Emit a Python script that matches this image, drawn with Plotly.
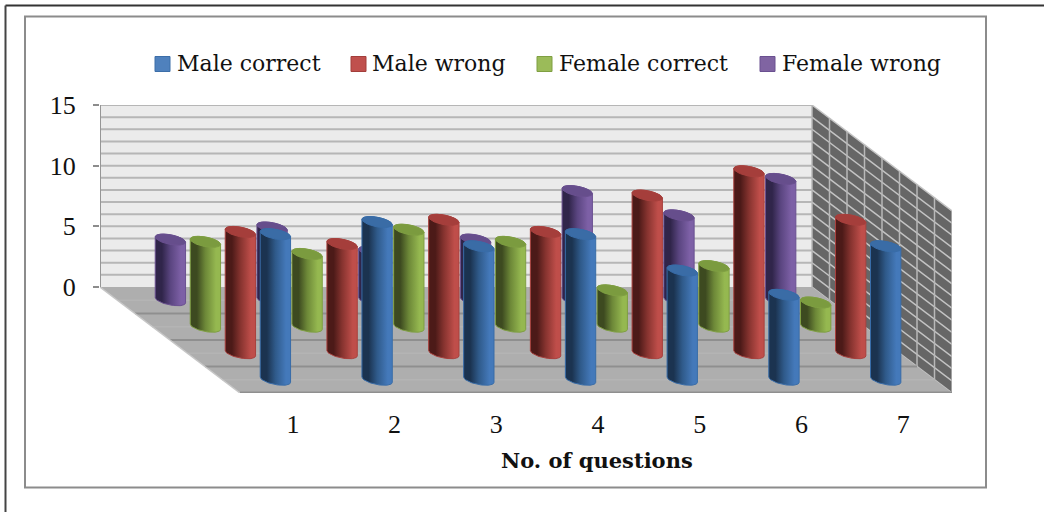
"""3D-look cylinder chart of correct/wrong answers per question, drawn on plain 2D axes
with an oblique projection (category slot, depth, value) -> (x, y)."""
import numpy as np
import plotly.graph_objects as go

QUESTIONS = ["1", "2", "3", "4", "5", "6", "7"]
MALE_CORRECT = [12, 13, 11, 12, 9, 7, 11]
MALE_WRONG = [10, 9, 11, 10, 13, 15, 11]
FEMALE_CORRECT = [7, 6, 8, 7, 3, 5, 2]
FEMALE_WRONG = [5, 6, 4, 5, 9, 7, 10]
VALUE_TICKS = [0, 5, 10, 15]

W, H = 1044, 512
FONT = "DejaVu Serif"
TICK_FONT = "Liberation Serif"
# pixel box of the plot area and pixel size of one unit on each axis
L, R, T, B = 100, 952, 105, 393
PX_X = 712 / 7
PX_Y = 182 / 15
DEPTH_X = 140 / PX_X
DEPTH_Y = 106 / PX_Y
SLOT_MID = 0.52

# (name, values, [dark, mid, light], top colour, edge colour, depth centre), back row first
SERIES = [
    ("Female wrong", FEMALE_WRONG, ["#30254a", "#5a4580", "#7d60a6"], "#664e8c", "#6a5090", 0.125),
    ("Female correct", FEMALE_CORRECT, ["#3d4a20", "#6d8838", "#95b850"], "#7b9b3f", "#7f9f42", 0.375),
    ("Male wrong", MALE_WRONG, ["#4c1a18", "#86332f", "#bf4e4a"], "#a53e3b", "#a8403d", 0.625),
    ("Male correct", MALE_CORRECT, ["#1b3350", "#2f5a8a", "#4479ba"], "#3a6ca6", "#386ca8", 0.875),
]
LEGEND_ORDER = [("Male correct", "#4f81bd", "#3c6ea8", 155, 177), ("Male wrong", "#c0504d", "#a33e3b", 351, 372),
                ("Female correct", "#9bbb59", "#7f9f42", 537, 559), ("Female wrong", "#8064a2", "#6a5090", 760, 782)]


def project(slot, depth, value):
    return slot + depth * DEPTH_X, value - depth * DEPTH_Y


def px(x):
    return (x - L) / (R - L)


def py(y):
    return (B - y) / (B - T)


def poly(fig, xs, ys, color):
    fig.add_trace(go.Scatter(x=xs, y=ys, mode="none", fill="toself", fillcolor=color,
                             showlegend=False, hoverinfo="skip"))


def lines(fig, segs, color, width):
    xs, ys = [], []
    for (x0, y0), (x1, y1) in segs:
        xs += [x0, x1, None]
        ys += [y0, y1, None]
    fig.add_trace(go.Scatter(x=xs, y=ys, mode="lines", line=dict(color=color, width=width),
                             showlegend=False, hoverinfo="skip"))


def add_room(fig):
    n = len(QUESTIONS)
    # back wall
    a, b = project(0, 0, 0), project(n, 0, 15)
    poly(fig, [a[0], b[0], b[0], a[0]], [0, 0, 15, 15], "#ebebeb")
    lines(fig, [(project(0, 0, v), project(n, 0, v)) for v in range(1, 16)], "#b6b6b6", 2)
    # side wall
    c = [project(n, 0, 0), project(n, 1, 0), project(n, 1, 15), project(n, 0, 15)]
    poly(fig, [p[0] for p in c], [p[1] for p in c], "#666666")
    lines(fig, [(project(n, 0, v), project(n, 1, v)) for v in range(0, 16)], "#c4c4c4", 1.5)
    lines(fig, [(project(n, d / 8, 0), project(n, d / 8, 15)) for d in range(0, 9)], "#b8b8b8", 1.5)
    # floor
    c = [project(0, 0, 0), project(n, 0, 0), project(n, 1, 0), project(0, 1, 0)]
    poly(fig, [p[0] for p in c], [p[1] for p in c], "#aeaeae")
    lines(fig, [(project(0, d / 8, 0), project(n, d / 8, 0)) for d in (1, 3, 5, 7)], "#b4b4b4", 1.5)
    lines(fig, [(project(0, d / 8, 0), project(n, d / 8, 0)) for d in (2, 4, 6)], "#8f8f8f", 2)
    lines(fig, [(project(0, 0, 0), project(0, 1, 0))], "#c6c6c6", 1.5)
    lines(fig, [(project(0, 1, 0), project(n, 1, 0))], "#8f8f8f", 3)
    lines(fig, [(project(0, 0, 0), project(0, 0, 15))], "#969696", 2)


def add_cylinder(fig, slot, depth, value, tones, top, edge):
    # circle on the floor, half-axes in pixels turned into axis units
    rx, dx, dy = 13.3 / PX_X, 7.3 / PX_X, 5.5 / PX_Y
    cx, cy0 = project(slot, depth, 0)
    cy1 = cy0 + value
    t0 = np.arctan2(dx, rx)
    # silhouette: front half of the base, back half of the top
    front = np.linspace(t0, t0 + np.pi, 40)
    back = np.linspace(t0 + np.pi, t0 + 2 * np.pi, 40)
    xs = np.concatenate([cx + rx * np.cos(front) + dx * np.sin(front), cx + rx * np.cos(back) + dx * np.sin(back)])
    ys = np.concatenate([cy0 - dy * np.sin(front), cy1 - dy * np.sin(back)])
    fig.add_trace(go.Scatter(x=list(xs) + [xs[0]], y=list(ys) + [ys[0]], mode="lines", fill="toself",
                             line=dict(color=edge, width=1),
                             fillgradient=dict(type="horizontal", colorscale=[[0, tones[0]], [0.22, tones[0]], [0.5, tones[1]], [0.85, tones[2]], [1, tones[2]]]),
                             showlegend=False, hoverinfo="skip"))
    t = np.linspace(0, 2 * np.pi, 60)
    fig.add_trace(go.Scatter(x=cx + rx * np.cos(t) + dx * np.sin(t), y=cy1 - dy * np.sin(t), mode="lines", fill="toself",
                             fillcolor=top, line=dict(color=edge, width=1),
                             showlegend=False, hoverinfo="skip"))


fig = go.Figure()
add_room(fig)
for name, values, tones, top, edge, depth in SERIES:
    for i, v in enumerate(values):
        add_cylinder(fig, i + SLOT_MID, depth, v, tones, top, edge)

shapes = [
    dict(type="line", xref="paper", yref="paper", x0=px(5.5), x1=px(W), y0=py(5.5), y1=py(5.5), line=dict(color="#333", width=2)),
    dict(type="line", xref="paper", yref="paper", x0=px(5.5), x1=px(5.5), y0=py(5.5), y1=py(H), line=dict(color="#444", width=2)),
    dict(type="rect", xref="paper", yref="paper", x0=px(25), x1=px(986), y0=py(16.5), y1=py(487.5), line=dict(color="#8c8c8c", width=2)),
]
notes = []
for name, col, edge, sx, tx in LEGEND_ORDER:
    shapes.append(dict(type="rect", xref="paper", yref="paper", x0=px(sx), x1=px(sx + 15), y0=py(56.5), y1=py(71.5),
                       fillcolor=col, line=dict(color=edge, width=1)))
    notes.append(dict(xref="paper", yref="paper", x=px(tx - 2), y=py(64), text=name, showarrow=False,
                      xanchor="left", yanchor="middle", font=dict(family=FONT, size=22, color="#111")))
notes.append(dict(xref="paper", yref="paper", x=px(597), y=py(460), text="<b>No. of questions</b>", showarrow=False,
                  xanchor="center", yanchor="middle", font=dict(family=FONT, size=21, color="#111")))

fig.update_xaxes(range=[0, (R - L) / PX_X], showgrid=False, zeroline=False, showline=False, ticks="",
                 tickvals=[project(i + SLOT_MID, 1, 0)[0] for i in range(len(QUESTIONS))], ticktext=QUESTIONS,
                 tickfont=dict(family=TICK_FONT, size=26, color="#111"), ticklabelstandoff=13)
fig.update_yaxes(range=[-DEPTH_Y, 15], showgrid=False, zeroline=False, showline=False, ticks="outside", ticklen=6,
                 tickcolor="#8c8c8c", tickwidth=1.5, tickvals=VALUE_TICKS, ticktext=[str(v) for v in VALUE_TICKS],
                 tickfont=dict(family=TICK_FONT, size=26, color="#111"), ticklabelstandoff=12)
fig.update_layout(width=W, height=H, margin=dict(l=L, r=W - R, t=T, b=H - B), paper_bgcolor="white", plot_bgcolor="white",
                  showlegend=False, shapes=shapes, annotations=notes)
fig.write_html("out.html", post_script="document.body.style.margin='0';", config=dict(displayModeBar=False))
